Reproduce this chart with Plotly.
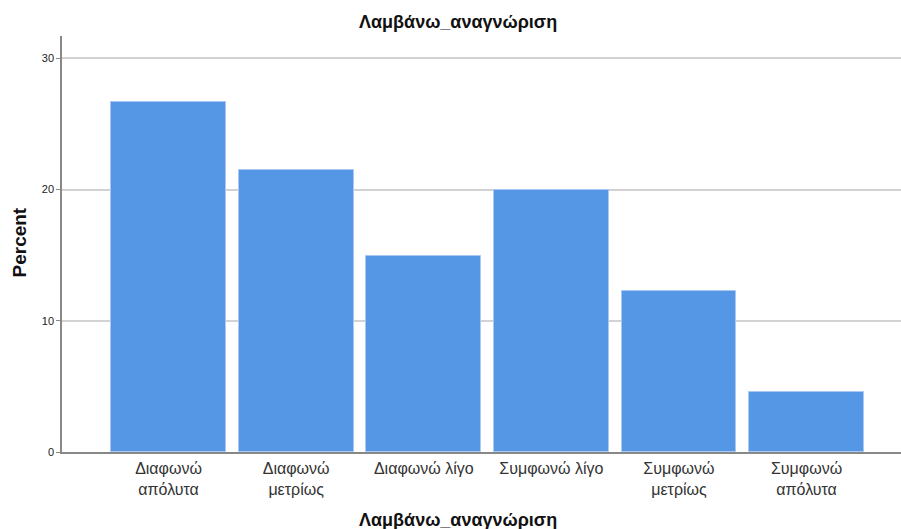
import plotly.graph_objects as go

categories = ["Διαφωνώ<br>απόλυτα", "Διαφωνώ<br>μετρίως", "Διαφωνώ λίγο",
              "Συμφωνώ λίγο", "Συμφωνώ<br>μετρίως", "Συμφωνώ<br>απόλυτα"]
percent = [26.7, 21.5, 14.9, 20.0, 12.3, 4.6]
y_ticks = [0, 10, 20, 30]

W, H = 901, 529
ml, mr, mt, mb = 62, 0, 36, 77

fig = go.Figure()
fig.add_trace(go.Bar(
    x=list(range(len(categories))), y=percent,
    width=0.9,
    marker=dict(color="#5596E5", line=dict(color="#a9c9f2", width=1)),
))

fig.update_layout(
    width=W, height=H,
    margin=dict(l=ml, r=mr, t=mt, b=mb),
    paper_bgcolor="white", plot_bgcolor="white",
    font=dict(family="Liberation Sans, Arial, sans-serif", color="#222"),
    showlegend=False,
    bargap=0,
    xaxis=dict(
        range=[-0.835, 5.74], automargin=False,
        tickmode="array", tickvals=list(range(len(categories))), ticktext=categories,
        showgrid=False, zeroline=False,
        showline=True, linecolor="#888", linewidth=1.5,
        ticks="", tickfont=dict(size=16, color="#333"),
        ticklabelstandoff=1,
    ),
    yaxis=dict(
        range=[0, 31.7], automargin=False,
        tickmode="array", tickvals=y_ticks, ticktext=[str(t) for t in y_ticks],
        showgrid=True, gridcolor="#d2d2d2", gridwidth=1.5,
        zeroline=False,
        showline=True, linecolor="#888", linewidth=1.5,
        ticks="outside", ticklen=4, tickcolor="#888",
        tickfont=dict(size=11, color="#222"),
    ),
)

fig.add_annotation(text="<b>Λαμβάνω_αναγνώριση</b>", xref="paper", yref="paper",
                   x=(458 - ml) / (W - ml - mr), y=1 + (mt - 22.5) / (H - mt - mb),
                   showarrow=False, font=dict(size=18, color="#111"),
                   xanchor="center", yanchor="middle")
fig.add_annotation(text="<b>Λαμβάνω_αναγνώριση</b>", xref="paper", yref="paper",
                   x=(458 - ml) / (W - ml - mr), y=-(519.5 - (H - mb)) / (H - mt - mb),
                   showarrow=False, font=dict(size=18, color="#111"),
                   xanchor="center", yanchor="middle")
fig.add_annotation(text="<b>Percent</b>", xref="paper", yref="paper",
                   x=-(ml - 18.5) / (W - ml - mr), y=(H - mb - 243) / (H - mt - mb),
                   showarrow=False, textangle=-90, font=dict(size=19, color="#111"),
                   xanchor="center", yanchor="middle")

fig.write_html("out.html", config={"displayModeBar": False},
               post_script="document.body.style.margin='0';")
